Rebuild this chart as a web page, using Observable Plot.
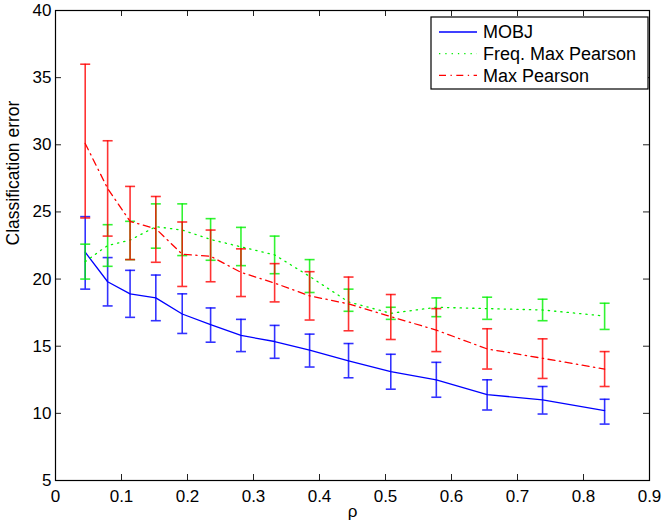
<!DOCTYPE html>
<html>
<head>
<meta charset="utf-8">
<script src="https://cdn.jsdelivr.net/npm/d3@7"></script>
<script src="https://cdn.jsdelivr.net/npm/@observablehq/plot@0.6"></script>
<style>
  body { margin: 0; background: #fff; }
  #chart { width: 664px; height: 528px; }
</style>
</head>
<body>
<div id="chart"></div>
<script>
// ---- data ----
const rho = [0.045, 0.079, 0.113, 0.152, 0.192, 0.235, 0.281, 0.332, 0.385, 0.444, 0.508, 0.577, 0.654, 0.738, 0.832];

const mobjMean = [22.0, 19.8, 18.9, 18.6, 17.4, 16.6, 15.8, 15.35, 14.7, 13.9, 13.1, 12.5, 11.4, 11.0, 10.2];
const mobjLow  = [19.25, 18.0, 17.15, 16.9, 15.95, 15.3, 14.6, 14.1, 13.45, 12.65, 11.8, 11.2, 10.25, 9.95, 9.2];
const mobjHigh = [24.65, 21.6, 20.65, 20.3, 18.9, 17.85, 17.0, 16.55, 15.9, 15.2, 14.4, 13.8, 12.5, 12.0, 11.05];

const freqMean = [21.3, 22.5, 22.9, 23.9, 23.65, 22.95, 22.4, 21.8, 20.2, 18.3, 17.45, 17.9, 17.8, 17.7, 17.25];
const freqLow  = [20.0, 20.95, 21.45, 22.3, 21.75, 21.4, 21.0, 20.4, 19.0, 17.6, 17.0, 17.2, 17.0, 16.9, 16.25];
const freqHigh = [22.6, 24.05, 24.3, 25.6, 25.6, 24.5, 23.85, 23.2, 21.45, 19.25, 17.9, 18.6, 18.65, 18.5, 18.2];

const mpMean = [30.1, 26.75, 24.3, 23.75, 21.85, 21.7, 20.5, 19.7, 18.75, 18.15, 17.2, 16.2, 14.8, 14.1, 13.3];
const mpLow  = [24.55, 23.2, 21.45, 21.25, 19.45, 19.8, 18.7, 18.3, 16.95, 16.15, 15.5, 14.6, 13.3, 12.6, 12.0];
const mpHigh = [36.0, 30.3, 26.9, 26.15, 24.25, 23.65, 22.25, 21.15, 20.55, 20.15, 18.85, 17.8, 16.3, 15.55, 14.6];

const seriesNames = ["MOBJ", "Freq. Max Pearson", "Max Pearson"];
const xTicks = [0, 0.1, 0.2, 0.3, 0.4, 0.5, 0.6, 0.7, 0.8, 0.9];
const yTicks = [5, 10, 15, 20, 25, 30, 35, 40];
const xLabel = "ρ";
const yLabel = "Classification error";

// ---- styles ----
const W = 664, H = 528;
const M = {top: 10, right: 15, bottom: 48, left: 55};
const innerW = W - M.left - M.right;
const innerH = H - M.top - M.bottom;
const tickLen = 6;

const colors = ["#0000ff", "#00f000", "#ff0000"];
const dashes = [null, "1.3,5", "7,4.5,1.3,4.5"];
const lineWidths = [1.3, 1.3, 1.3];

const means = [mobjMean, freqMean, mpMean];
const lows = [mobjLow, freqLow, mpLow];
const highs = [mobjHigh, freqHigh, mpHigh];

const tables = seriesNames.map((name, s) =>
  rho.map((x, i) => ({series: name, x, mean: means[s][i], low: lows[s][i], high: highs[s][i]}))
);

// horizontal cap symbol for error bars
const capSymbol = {
  draw(ctx, size) {
    const r = Math.sqrt(size / Math.PI);
    ctx.moveTo(-r, 0);
    ctx.lineTo(r, 0);
  }
};

const dataMarks = [];
tables.forEach((t, s) => {
  dataMarks.push(
    Plot.line(t, {x: "x", y: "mean", stroke: colors[s], strokeWidth: lineWidths[s], strokeDasharray: dashes[s]}),
    Plot.ruleX(t, {x: "x", y1: "low", y2: "high", stroke: colors[s], strokeWidth: 1.6, strokeOpacity: 0.8}),
    Plot.dot(t, {x: "x", y: "low", symbol: capSymbol, r: 5, fill: "none", stroke: colors[s], strokeWidth: 1.6, strokeOpacity: 0.8}),
    Plot.dot(t, {x: "x", y: "high", symbol: capSymbol, r: 5, fill: "none", stroke: colors[s], strokeWidth: 1.6, strokeOpacity: 0.8})
  );
});

const fmt = d => String(d);

const chart = Plot.plot({
  width: W,
  height: H,
  marginTop: M.top,
  marginRight: M.right,
  marginBottom: M.bottom,
  marginLeft: M.left,
  x: {domain: [0, 0.9]},
  y: {domain: [5, 40]},
  style: {fontFamily: "'Liberation Sans', Arial, Helvetica, sans-serif", fontSize: "17px", color: "black", background: "white"},
  marks: [
    // inward ticks on all four sides
    Plot.tickX(xTicks, {x: d => d, insetTop: innerH - tickLen, stroke: "#222"}),
    Plot.tickX(xTicks, {x: d => d, insetBottom: innerH - tickLen, stroke: "#222"}),
    Plot.tickY(yTicks, {y: d => d, insetRight: innerW - tickLen, stroke: "#222"}),
    Plot.tickY(yTicks, {y: d => d, insetLeft: innerW - tickLen, stroke: "#222"}),
    // tick labels
    Plot.axisX({anchor: "bottom", ticks: xTicks, tickSize: 0, tickPadding: 9, tickFormat: fmt, label: null}),
    Plot.axisY({anchor: "left", ticks: yTicks, tickSize: 0, tickPadding: 4, tickFormat: fmt, label: null}),
    // axis titles
    Plot.text([xLabel], {frameAnchor: "bottom", dy: 36, text: d => d, fontSize: 17}),
    Plot.text([yLabel], {frameAnchor: "left", dx: -42, rotate: -90, text: d => d, fontSize: 17.5}),
    ...dataMarks,
    Plot.frame({stroke: "black", strokeWidth: 1.2})
  ]
});

document.getElementById("chart").appendChild(chart);

// ---- legend (MATLAB style box, top-right inside the axes) ----
const svg = d3.select(chart);
const lg = svg.append("g")
  .attr("font-family", "'Liberation Sans', Arial, Helvetica, sans-serif")
  .attr("font-size", 18)
  .attr("text-anchor", "start");
const box = {x: 431, y: 17, w: 217, h: 72};
lg.append("rect").attr("x", box.x).attr("y", box.y).attr("width", box.w).attr("height", box.h)
  .attr("fill", "white").attr("stroke", "black").attr("stroke-width", 1.2);
seriesNames.forEach((name, s) => {
  const cy = box.y + 15 + s * 21.7;
  lg.append("line").attr("x1", box.x + 8).attr("x2", box.x + 46).attr("y1", cy).attr("y2", cy)
    .attr("stroke", colors[s]).attr("stroke-width", lineWidths[s])
    .attr("stroke-dasharray", dashes[s]);
  lg.append("text").attr("x", box.x + 52).attr("y", cy).attr("dy", "0.35em")
    .attr("text-anchor", "start").attr("fill", "black").text(name);
});
</script>
</body>
</html>
